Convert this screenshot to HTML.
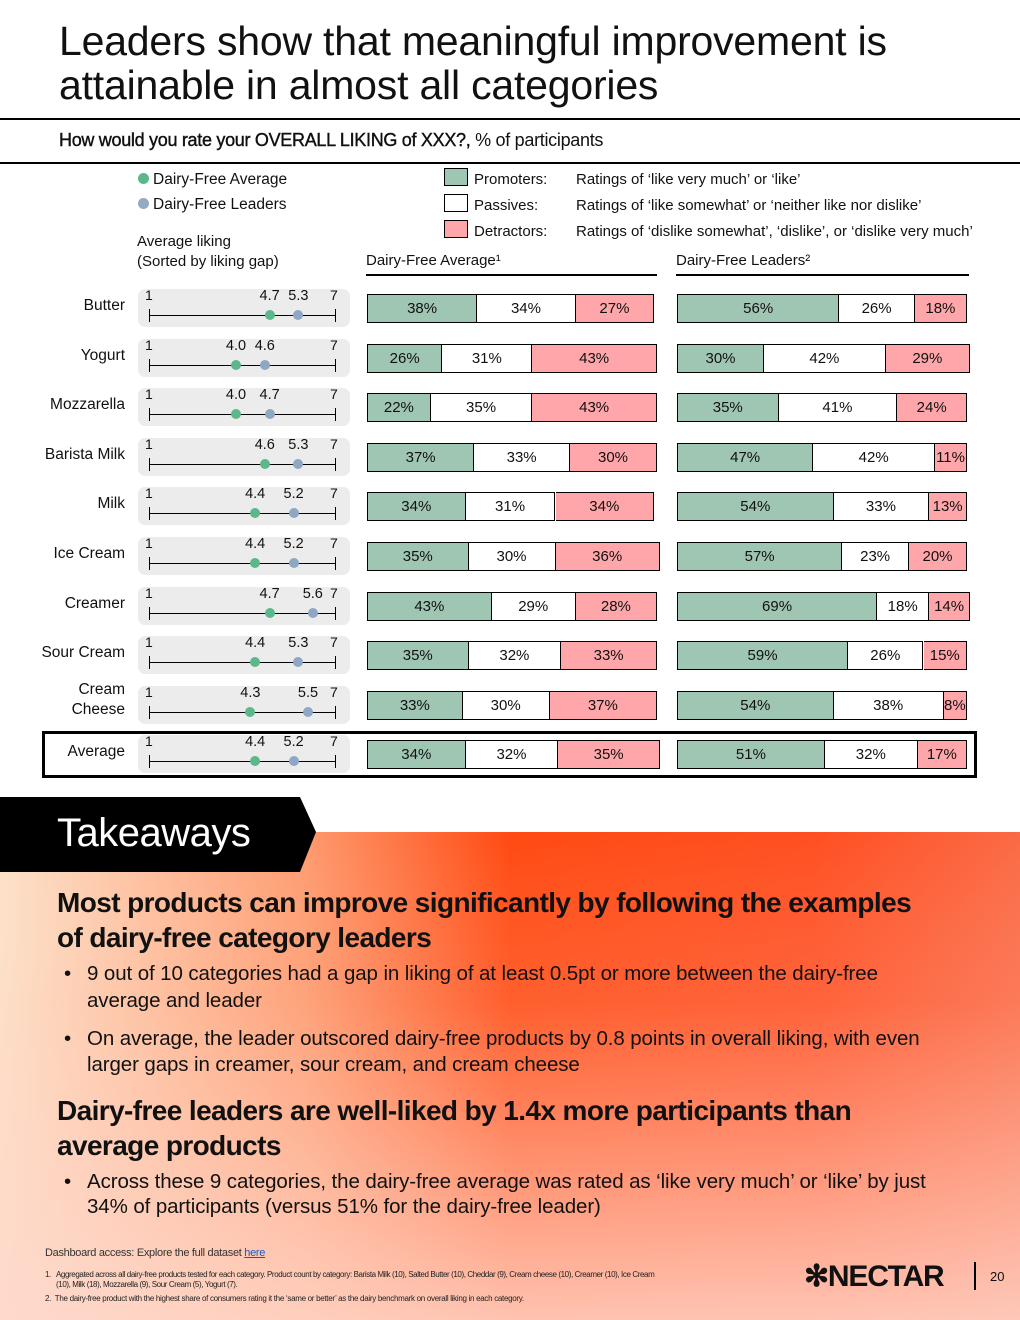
<!DOCTYPE html>
<html><head><meta charset="utf-8">
<style>
*{margin:0;padding:0;box-sizing:border-box}
body{width:1020px;height:1320px;position:relative;overflow:hidden;background:#fff;font-family:"Liberation Sans",sans-serif;color:#111}
.abs{position:absolute}
.t{white-space:nowrap}
</style></head><body>
<div class="abs t" style="left:59px;top:19px;font-size:41px;line-height:44px;letter-spacing:-0.2px">Leaders show that meaningful improvement is<br>attainable in almost all categories</div>
<div class="abs" style="left:0;top:118px;width:1020px;height:2px;background:#000"></div>
<div class="abs t" style="left:59px;top:130px;font-size:18px;letter-spacing:-0.3px"><b style="font-weight:normal;-webkit-text-stroke:0.4px #111">How would you rate your OVERALL LIKING of XXX?,</b> % of participants</div>
<div class="abs" style="left:0;top:162px;width:1020px;height:2px;background:#000"></div>

<div class="abs t" style="left:138px;top:171px;font-size:15.5px"><span style="display:inline-block;width:11px;height:11px;border-radius:50%;background:#5cb88a;margin-right:4px"></span>Dairy-Free Average</div>
<div class="abs t" style="left:138px;top:196px;font-size:15.5px"><span style="display:inline-block;width:11px;height:11px;border-radius:50%;background:#93a9c4;margin-right:4px"></span>Dairy-Free Leaders</div>
<div class="abs t" style="left:137px;top:232px;font-size:15px;line-height:20px">Average liking<br>(Sorted by liking gap)</div>

<div class="abs" style="left:444px;top:168px;width:24px;height:18px;background:#9fc5b3;border:1px solid #000"></div>
<div class="abs" style="left:444px;top:194px;width:24px;height:18px;background:#fff;border:1px solid #000"></div>
<div class="abs" style="left:444px;top:220px;width:24px;height:18px;background:#ffa6aa;border:1px solid #000"></div>
<div class="abs t" style="left:474px;top:167px;font-size:15px;line-height:26px">Promoters:<br>Passives:<br>Detractors:</div>
<div class="abs t" style="left:576px;top:167px;font-size:15px;line-height:26px">Ratings of ‘like very much’ or ‘like’<br>Ratings of ‘like somewhat’ or ‘neither like nor dislike’<br>Ratings of ‘dislike somewhat’, ‘dislike’, or ‘dislike very much’</div>

<div class="abs t" style="left:366px;top:252px;font-size:15px">Dairy-Free Average¹</div>
<div class="abs" style="left:366px;top:274px;width:291px;height:1.5px;background:#000"></div>
<div class="abs t" style="left:676px;top:252px;font-size:15px">Dairy-Free Leaders²</div>
<div class="abs" style="left:676px;top:274px;width:293px;height:1.5px;background:#000"></div>

<div class="abs" style="left:42px;top:731px;width:935px;height:47px;border:3px solid #000"></div>
<div id="rows"></div>

<svg class="abs" style="left:0;top:0" width="1020" height="1320">
<defs>
<linearGradient id="g1" x1="0" y1="0" x2="1" y2="0">
<stop offset="0" stop-color="#fde0c8"/><stop offset="0.3" stop-color="#fe9a6e"/><stop offset="0.5" stop-color="#ff4a12"/><stop offset="0.8" stop-color="#ff4f22"/><stop offset="1" stop-color="#fb6a45"/></linearGradient>
<linearGradient id="g2" x1="0" y1="0" x2="0" y2="1">
<stop offset="0" stop-color="#fff" stop-opacity="0"/><stop offset="0.35" stop-color="#ffd6c8" stop-opacity="0.15"/><stop offset="1" stop-color="#ffd8cc" stop-opacity="0.85"/></linearGradient>
</defs>
<polygon points="0,832 1020,832 1020,1320 0,1320" fill="url(#g1)"/>
<polygon points="0,832 1020,832 1020,1320 0,1320" fill="url(#g2)"/>
<polygon points="0,797 300,797 316,832 300,872 0,872" fill="#000"/>
</svg>
<div class="abs t" style="left:57px;top:811px;font-size:40px;color:#fff;letter-spacing:-0.5px">Takeaways</div>

<div class="abs" style="left:57px;top:885px;width:875px;font-size:28px;line-height:35px;font-weight:bold;letter-spacing:-0.6px">Most products can improve significantly by following the examples of dairy-free category leaders</div>
<div class="abs" style="left:64px;top:960px;width:835px;font-size:20.5px;line-height:27px;letter-spacing:-0.1px;padding-left:23px"><span style="position:absolute;left:0">•</span>9 out of 10 categories had a gap in liking of at least 0.5pt or more between the dairy-free average and leader</div>
<div class="abs" style="left:64px;top:1026px;width:880px;font-size:20.5px;line-height:26px;letter-spacing:-0.1px;padding-left:23px"><span style="position:absolute;left:0">•</span>On average, the leader outscored dairy-free products by 0.8 points in overall liking, with even larger gaps in creamer, sour cream, and cream cheese</div>
<div class="abs" style="left:57px;top:1093px;width:880px;font-size:28px;line-height:35px;font-weight:bold;letter-spacing:-0.6px">Dairy-free leaders are well-liked by 1.4x more participants than average products</div>
<div class="abs" style="left:64px;top:1169px;width:890px;font-size:20.5px;line-height:25px;letter-spacing:-0.1px;padding-left:23px"><span style="position:absolute;left:0">•</span>Across these 9 categories, the dairy-free average was rated as ‘like very much’ or ‘like’ by just 34% of participants (versus 51% for the dairy-free leader)</div>

<div class="abs t" style="left:45px;top:1247px;font-size:11px;letter-spacing:-0.3px;color:#333">Dashboard access: Explore the full dataset <a style="color:#1a56c8;text-decoration:underline">here</a></div>
<div class="abs" style="left:45px;top:1270px;width:612px;font-size:8px;line-height:10px;letter-spacing:-0.4px;color:#222;padding-left:11px"><span style="position:absolute;left:0">1.</span>Aggregated across all dairy-free products tested for each category. Product count by category: Barista Milk (10), Salted Butter (10), Cheddar (9), Cream cheese (10), Creamer (10), Ice Cream (10), Milk (18), Mozzarella (9), Sour Cream (5), Yogurt (7).</div>
<div class="abs t" style="left:45px;top:1294px;font-size:8px;letter-spacing:-0.3px;color:#222">2.&nbsp; The dairy-free product with the highest share of consumers rating it the ‘same or better’ as the dairy benchmark on overall liking in each category.</div>
<div class="abs t" style="left:804px;top:1259px;font-size:30px;font-weight:bold;letter-spacing:-1.2px">✻NECTAR</div>
<div class="abs" style="left:974px;top:1262px;width:2px;height:28px;background:#000"></div>
<div class="abs t" style="left:990px;top:1269px;font-size:13px">20</div>

<script>
const categories=["Butter","Yogurt","Mozzarella","Barista Milk","Milk","Ice Cream","Creamer","Sour Cream","Cream\nCheese","Average"];
const avgLiking=[4.7,4.0,4.0,4.6,4.4,4.4,4.7,4.4,4.3,4.4];
const leaderLiking=[5.3,4.6,4.7,5.3,5.2,5.2,5.6,5.3,5.5,5.2];
const avgPromoters=[38,26,22,37,34,35,43,35,33,34];
const avgPassives=[34,31,35,33,31,30,29,32,30,32];
const avgDetractors=[27,43,43,30,34,36,28,33,37,35];
const leadPromoters=[56,30,35,47,54,57,69,59,54,51];
const leadPassives=[26,42,41,42,33,23,18,26,38,32];
const leadDetractors=[18,29,24,11,13,20,14,15,8,17];

const rowTop=i=>289+i*49.6;
const xPct=p=>p*2.9;
const xDot=v=>44+48*v;
const root=document.getElementById('rows');
function div(style,txt){const d=document.createElement('div');d.className='abs t';d.style.cssText=style;if(txt!=null)d.textContent=txt;return d;}
categories.forEach((c,i)=>{
  const y=rowTop(i);
  const lbl=div(`right:${1020-125}px;top:${y+(c.includes('\n')?-6:7)}px;font-size:15.5px;line-height:20px;text-align:right;white-space:pre`,c);
  
  
  root.appendChild(lbl);
  const pill=div(`left:138px;top:${y}px;width:212px;height:38px;background:#ececec;border-radius:7px`);
  
  
  root.appendChild(pill);
  const ax=div(`left:149px;top:${y+26}px;width:187px;height:1px;background:#000`);
  
  
  root.appendChild(ax);
  [149,335].forEach(x=>{const tk=div(`left:${x}px;top:${y+20}px;width:1px;height:13px;background:#000`);
    
    
    root.appendChild(tk);});
  const t1=div(`left:145px;top:${y-2}px;font-size:14px`,'1');
  
  
  root.appendChild(t1);
  const t7=div(`left:330px;top:${y-2}px;font-size:14px`,'7');
  
  
  root.appendChild(t7);
  [[avgLiking[i],'#5cb88a','average-dot'],[leaderLiking[i],'#8ea7c2','leader-dot']].forEach(([v,col,n])=>{
    const x=xDot(v);
    const d=div(`left:${x-5}px;top:${y+21}px;width:10px;height:10px;border-radius:50%;background:${col}`);
    
    
    root.appendChild(d);
    const l=div(`left:${x-15}px;top:${y-1}px;width:30px;text-align:center;font-size:14.5px`,v.toFixed(1));
    
    
    root.appendChild(l);
  });
  [[367,[avgPromoters[i],avgPassives[i],avgDetractors[i]],'average'],[677,[leadPromoters[i],leadPassives[i],leadDetractors[i]],'leader']].forEach(([x0,vals,grp])=>{
    let x=x0;
    const cols=['#9fc5b3','#fff','#ffa6aa'],names=['promoters','passives','detractors'];
    vals.forEach((v,k)=>{
      const w=xPct(v);
      const s=div(`left:${x}px;top:${y+5}px;width:${w}px;height:29px;background:${cols[k]};border:1px solid #000;${k>0?'border-left:none;':''}font-size:15px;line-height:27px;text-align:center`,v+'%');
      
      
      root.appendChild(s);
      x+=w;
    });
  });
});
</script>
</body></html>
